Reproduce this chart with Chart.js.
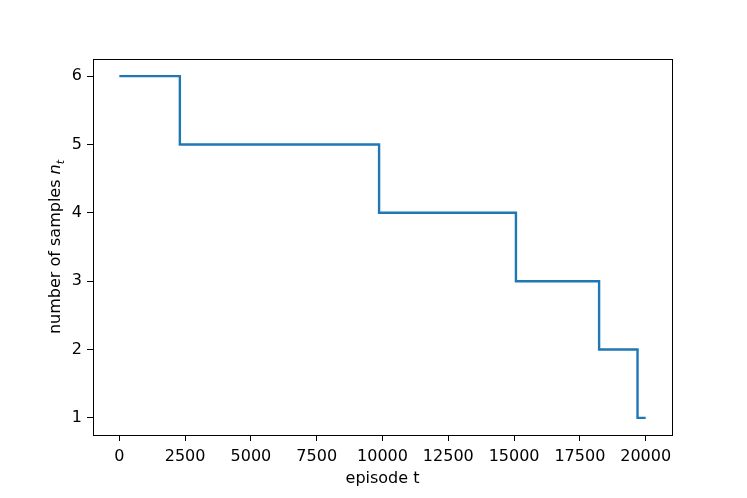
<!DOCTYPE html>
<html>
<head>
<meta charset="utf-8">
<script src="https://cdn.jsdelivr.net/npm/chart.js@4"></script>
<style>
  html, body { margin: 0; padding: 0; background: #fff; }
  #chart { display: block; }
</style>
</head>
<body>
<canvas id="chart" width="747" height="498"></canvas>
<script>
// step points: episode where n_t drops, and the new value
const episodes = [0, 2300, 9870, 15070, 18230, 19690, 20000];
const samples = [6, 5, 4, 3, 2, 1, 1];
const xTicks = [0, 2500, 5000, 7500, 10000, 12500, 15000, 17500, 20000];
const yTicks = [1, 2, 3, 4, 5, 6];

const FONT = "DejaVu Sans";

// frame box + y label with math style n_t
const framePlugin = {
  id: "frame",
  afterDraw(chart) {
    const ctx = chart.ctx;
    const a = chart.chartArea;
    ctx.save();
    ctx.strokeStyle = "#000";
    ctx.lineWidth = 1;
    ctx.strokeRect(a.left + 0.5, a.top + 0.5, a.right - a.left, a.bottom - a.top);

    // y axis title (rotated, baseline at x=60)
    const cy = (a.top + a.bottom) / 2;
    ctx.translate(60, cy);
    ctx.rotate(-Math.PI / 2);
    ctx.fillStyle = "#000";
    ctx.textBaseline = "alphabetic";
    const main = "number of samples ";
    ctx.font = "16px '" + FONT + "'";
    const w1 = ctx.measureText(main).width;
    ctx.font = "italic 16px '" + FONT + "'";
    const w2 = ctx.measureText("n").width;
    ctx.font = "italic 11px '" + FONT + "'";
    const w3 = ctx.measureText("t").width;
    let x = -(w1 + w2 + w3) / 2;
    ctx.font = "16px '" + FONT + "'";
    ctx.fillText(main, x, 0);
    x += w1;
    ctx.font = "italic 16px '" + FONT + "'";
    ctx.fillText("n", x, 0);
    x += w2;
    ctx.font = "italic 11px '" + FONT + "'";
    ctx.fillText("t", x, 3.5);
    ctx.restore();
  }
};

new Chart(document.getElementById("chart"), {
  type: "line",
  data: {
    datasets: [{
      data: episodes.map((e, i) => ({ x: e, y: samples[i] })),
      stepped: true,
      borderColor: "#1f77b4",
      borderWidth: 2.4,
      pointRadius: 0,
      fill: false
    }]
  },
  options: {
    responsive: false,
    animation: false,
    layout: { padding: { left: 0, right: 75, top: 59, bottom: 0 } },
    plugins: { legend: { display: false }, tooltip: { enabled: false } },
    scales: {
      x: {
        type: "linear",
        min: -1000,
        max: 21000,
        afterBuildTicks: (s) => { s.ticks = xTicks.map(v => ({ value: v })); },
        afterFit: (s) => { s.height = 63; },
        grid: { drawOnChartArea: false, drawTicks: true, tickLength: 6, color: "#000" },
        border: { display: true, color: "#000" },
        ticks: { color: "#000", font: { family: FONT, size: 16 }, padding: 6, maxRotation: 0,
                 callback: (v) => String(v) },
        title: { display: true, text: "episode t", color: "#000", font: { family: FONT, size: 16 },
                 padding: { top: 0, bottom: 10 } }
      },
      y: {
        type: "linear",
        min: 0.75,
        max: 6.25,
        afterBuildTicks: (s) => { s.ticks = yTicks.map(v => ({ value: v })); },
        afterFit: (s) => { s.width = 93; },
        grid: { drawOnChartArea: false, drawTicks: true, tickLength: 6, color: "#000" },
        border: { display: true, color: "#000" },
        ticks: { color: "#000", font: { family: FONT, size: 16 }, padding: 5,
                 callback: (v) => String(v) }
      }
    }
  },
  plugins: [framePlugin]
});
</script>
</body>
</html>
